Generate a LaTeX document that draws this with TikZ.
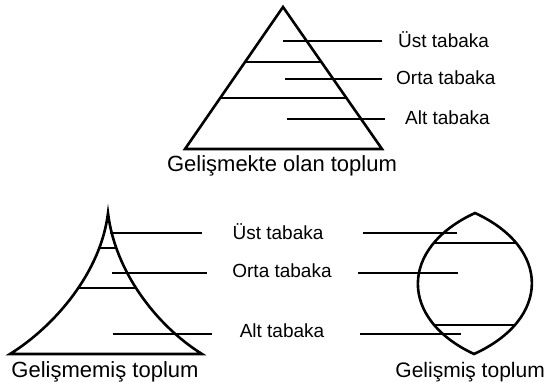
\documentclass[tikz,border=0pt]{standalone}
\usepackage{fontspec}
\setmainfont{Liberation Sans}
\usetikzlibrary{positioning}
\tikzstyle{outline}=[line width=2.6pt,line join=miter]
\tikzstyle{layer}=[line width=2.2pt]
\tikzstyle{pointer}=[line width=1.6pt]
\tikzstyle{lbl}=[inner sep=0pt,anchor=west,font=\fontsize{19}{19}\selectfont]
\tikzstyle{captxt}=[inner sep=0pt,font=\fontsize{22}{22}\selectfont]
\begin{document}
\begin{tikzpicture}[x=1pt,y=-1pt]
\useasboundingbox (0,0) rectangle (546,381);
%developing society
\begin{scope}
\clip (283,7) -- (185,149) -- (382,149) -- cycle;
\draw[layer] (150,62) -- (400,62);
\draw[layer] (150,98) -- (400,98);
\end{scope}
\draw[outline] (283,7) -- (185,149) -- (382,149) -- cycle;
\node[lbl] (ust1) at (398,40) {Üst tabaka};
\node[lbl] (orta1) at (396,78) {Orta tabaka};
\node[lbl] (alt1) at (405,118) {Alt tabaka};
\coordinate (p1) at (283,41);
\coordinate (p2) at (285,79);
\coordinate (p3) at (287,119);
\draw[pointer] (p1) -- ([xshift=-16pt]ust1.west |- p1);
\draw[pointer] (p2) -- ([xshift=-14pt]orta1.west |- p2);
\draw[pointer] (p3) -- ([xshift=-20pt]alt1.west |- p3);
\node[captxt] (cap1) at (282,166) {Gelişmekte olan toplum};
%underdeveloped society
\begin{scope}
\clip (108,213) .. controls (101,272) and (55,326) .. (10,354) -- (202,354)
  .. controls (157,326) and (115,272) .. (108,213);
\draw[layer] (0,248) -- (220,248);
\draw[layer] (0,288) -- (220,288);
\end{scope}
\draw[outline] (108,213) .. controls (101,272) and (55,326) .. (10,354) -- (202,354)
  .. controls (157,326) and (115,272) .. cycle;
%labels in the middle
\node[lbl,anchor=center] (ust2) at (278,232) {Üst tabaka};
\node[lbl,anchor=center] (orta2) at (282,271) {Orta tabaka};
\node[lbl,anchor=center] (alt2) at (282,331) {Alt tabaka};
\coordinate (q1) at (110,233);
\coordinate (q2) at (112,273);
\coordinate (q3) at (113,334);
\draw[pointer] (q1) -- ([xshift=-30pt]ust2.west |- q1);
\draw[pointer] (q2) -- ([xshift=-25pt]orta2.west |- q2);
\draw[pointer] (q3) -- ([xshift=-28pt]alt2.west |- q3);
\node[captxt] (cap2) at (105,372) {Gelişmemiş toplum};
%developed society
\begin{scope}
\clip (475,213) .. controls (399,248) and (399,319) .. (474,354)
  .. controls (551,319) and (551,248) .. (475,213);
\draw[layer] (400,243) -- (550,243);
\draw[layer] (400,325) -- (550,325);
\end{scope}
\draw[outline] (475,213) .. controls (399,248) and (399,319) .. (474,354)
  .. controls (551,319) and (551,248) .. cycle;
\coordinate (r1) at (457,233);
\coordinate (r2) at (458,273);
\coordinate (r3) at (461,334);
\draw[pointer] ([xshift=39pt]ust2.east |- r1) -- (r1);
\draw[pointer] ([xshift=26pt]orta2.east |- r2) -- (r2);
\draw[pointer] ([xshift=36pt]alt2.east |- r3) -- (r3);
\node[captxt,anchor=east,font=\fontsize{21}{21}\selectfont] (cap3) at (545,372) {Gelişmiş toplum};
\end{tikzpicture}
\end{document}
